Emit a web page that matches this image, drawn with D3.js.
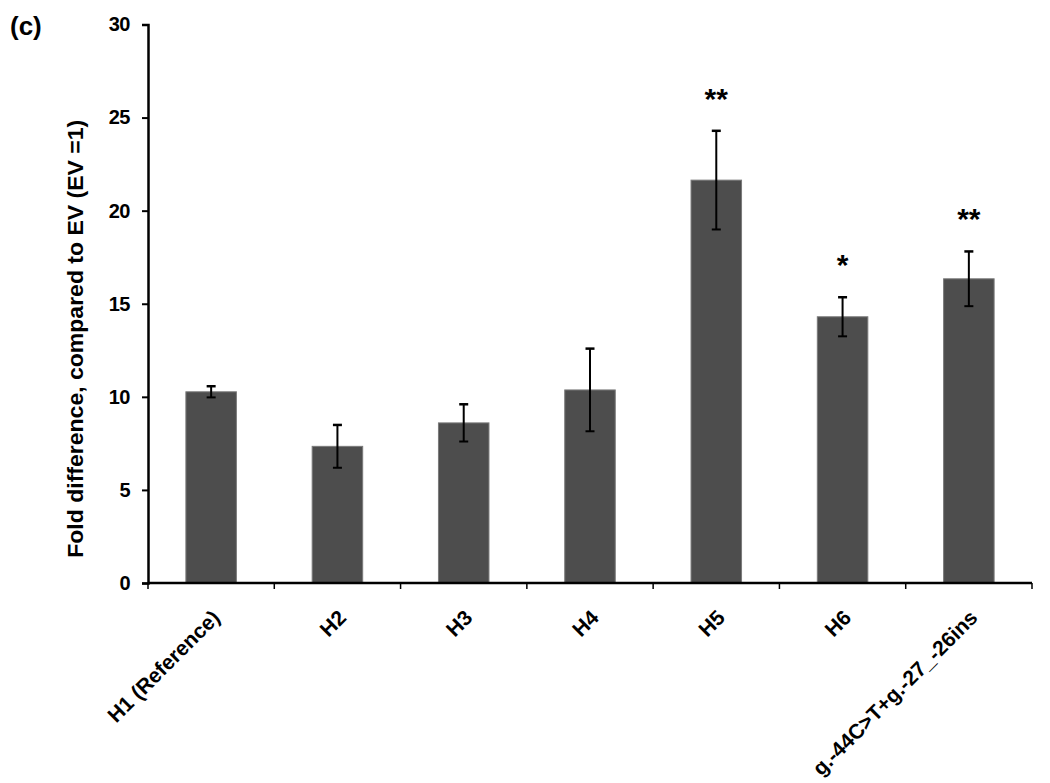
<!DOCTYPE html>
<html>
<head>
<meta charset="utf-8">
<script src="https://cdn.jsdelivr.net/npm/d3@7"></script>
<style>
  body { margin: 0; background: #fff; }
  svg { font-family: "Liberation Sans", Arial, sans-serif; font-weight: bold; }
</style>
</head>
<body>
<div id="chart"></div>
<script>
// data
var categories = ['H1 (Reference)', 'H2', 'H3', 'H4', 'H5', 'H6', 'g.-44C>T+g.-27_-26ins'];
var means = [10.27, 7.34, 8.6, 10.37, 21.64, 14.3, 16.34];
var errors = [0.3, 1.15, 1.0, 2.22, 2.65, 1.05, 1.47];
var stars = ['', '', '', '', '**', '*', '**'];
var yTicks = [0, 5, 10, 15, 20, 25, 30];

var width = 1050, height = 783;
var margin = {top: 24.5, left: 148, right: 18, bottom: 200};
var font = '"Liberation Sans", Arial, sans-serif';

var svg = d3.select('#chart').append('svg')
  .attr('width', width)
  .attr('height', height);

var x = d3.scaleBand()
  .domain(categories)
  .range([margin.left, width - margin.right])
  .paddingInner(0.6)
  .paddingOuter(0.3);

var y = d3.scaleLinear()
  .domain([0, 30])
  .range([height - margin.bottom, margin.top]);

// bars
svg.selectAll('rect.bar').data(means)
  .enter().append('rect')
    .attr('class', 'bar')
    .attr('x', function(d, i) { return x(categories[i]); })
    .attr('y', function(d) { return y(d); })
    .attr('width', x.bandwidth())
    .attr('height', function(d) { return y(0) - y(d); })
    .style('fill', '#4d4d4d')
    .style('stroke', '#7a7a7a')
    .style('stroke-width', 1);

// error bars
var eb = svg.selectAll('g.err').data(means)
  .enter().append('g')
    .attr('class', 'err')
    .attr('transform', function(d, i) {
      return 'translate(' + (x(categories[i]) + x.bandwidth() / 2) + ',0)';
    });
eb.append('line')
  .attr('y1', function(d, i) { return y(d + errors[i]); })
  .attr('y2', function(d, i) { return y(d - errors[i]); })
  .style('stroke', '#000').style('stroke-width', 2);
eb.append('line')
  .attr('x1', -4.5).attr('x2', 4.5)
  .attr('y1', function(d, i) { return y(d + errors[i]); })
  .attr('y2', function(d, i) { return y(d + errors[i]); })
  .style('stroke', '#000').style('stroke-width', 2.5);
eb.append('line')
  .attr('x1', -4.5).attr('x2', 4.5)
  .attr('y1', function(d, i) { return y(d - errors[i]); })
  .attr('y2', function(d, i) { return y(d - errors[i]); })
  .style('stroke', '#000').style('stroke-width', 2);

// significance stars
eb.append('text')
  .attr('y', function(d, i) { return y(d + errors[i]) - 22; })
  .attr('text-anchor', 'middle')
  .style('font-size', '30px')
  .text(function(d, i) { return stars[i]; });

// y axis
var yAxis = svg.append('g')
  .attr('transform', 'translate(' + margin.left + ',0)')
  .call(d3.axisLeft(y).tickValues(yTicks).tickSize(6).tickPadding(12));
yAxis.select('.domain').style('stroke-width', 2.5);
yAxis.selectAll('.tick line').style('stroke-width', 2);
yAxis.selectAll('.tick text')
  .style('font-size', '20px')
  .style('font-weight', 'bold')
  .style('font-family', font)
  .style('letter-spacing', '-0.5px');

// x axis: ticks at band boundaries
var xAxis = svg.append('g')
  .attr('transform', 'translate(0,' + y(0) + ')');
xAxis.append('line')
  .attr('x1', margin.left).attr('x2', width - margin.right)
  .style('stroke', '#000').style('stroke-width', 2.5);
var step = x.step();
var bounds = categories.map(function(c) { return x(c) - step * 0.3; })
  .concat([x(categories[categories.length - 1]) + x.bandwidth() + step * 0.3]);
xAxis.selectAll('line.xt').data(bounds)
  .enter().append('line')
    .attr('class', 'xt')
    .attr('x1', function(d) { return d; })
    .attr('x2', function(d) { return d; })
    .attr('y1', 0).attr('y2', 6)
    .style('stroke', '#000').style('stroke-width', 1.5);

xAxis.selectAll('text.xl').data(categories)
  .enter().append('text')
    .attr('class', 'xl')
    .attr('transform', function(d) {
      return 'translate(' + (x(d) + x.bandwidth() / 2 + 10) + ',36) rotate(-45)';
    })
    .attr('text-anchor', 'end')
    .style('font-size', '21px')
    .text(function(d) { return d; });

// y label
svg.append('text')
  .attr('transform', 'translate(83,' + ((y(0) + y(30)) / 2 + 35) + ') rotate(-90)')
  .attr('text-anchor', 'middle')
  .attr('textLength', 438)
  .attr('lengthAdjust', 'spacingAndGlyphs')
  .style('font-size', '22px')
  .text('Fold difference, compared to EV (EV =1)');

// panel letter
svg.append('text')
  .attr('x', 10).attr('y', 35)
  .style('font-size', '26px')
  .text('(c)');
</script>
</body>
</html>
